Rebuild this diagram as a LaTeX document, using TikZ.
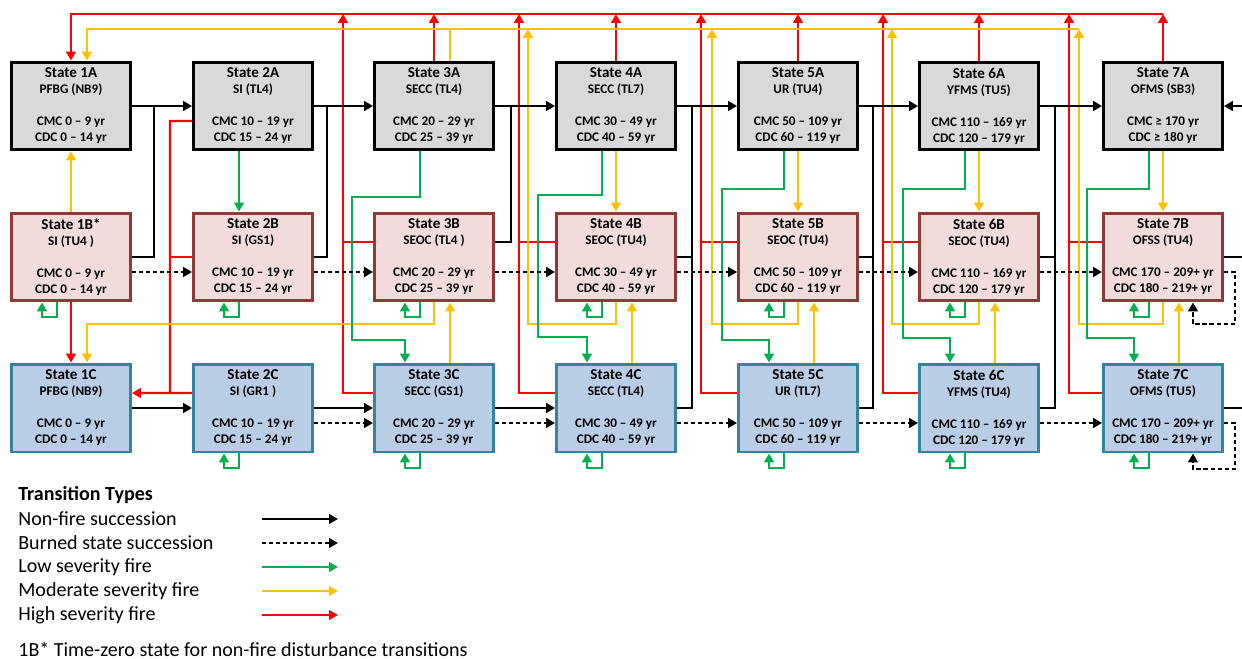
\documentclass[tikz,border=0pt]{standalone}
\usepackage{fontspec}
\setmainfont{Carlito}
\usepackage{xcolor}
\usepackage{tikz}
\usetikzlibrary{arrows.meta}
\definecolor{fgray}{HTML}{D9D9D9}
\definecolor{fpink}{HTML}{F2DCDB}
\definecolor{dpink}{HTML}{953735}
\definecolor{fblue}{HTML}{B9CDE5}
\definecolor{dblue}{HTML}{31859C}
\definecolor{lgreen}{HTML}{00B050}
\definecolor{lyellow}{HTML}{FFC000}
\definecolor{lred}{HTML}{FF0000}

\begin{document}
\begin{tikzpicture}[x=0.02cm, y=-0.02cm, >={Triangle[length=5pt,width=5.5pt]},
  state/.style={line width=1.7pt, minimum width=2.38cm, minimum height=1.76cm, inner sep=0pt,
    align=center, font=\fontsize{7.5}{9.1}\selectfont\bfseries},
  stA/.style={state, fill=fgray, draw=black},
  stB/.style={state, fill=fpink, draw=dpink},
  stC/.style={state, fill=fblue, draw=dblue},
  link/.style={line width=1.15pt},
  nofire/.style={link, black},
  burnt/.style={link, black, dash pattern=on 2.4pt off 1.6pt},
  low/.style={link, lgreen},
  mod/.style={link, lyellow},
  high/.style={link, lred},
  legtxt/.style={anchor=west, inner sep=0pt, font=\fontsize{11.4}{13}\selectfont}]
\useasboundingbox (0,0) rectangle (1242,659);

% states, row A
\node[stA] (s1A) at (71,106) {{\fontsize{8.6}{9.1}\selectfont State 1A}\\PFBG (NB9)\\[9.1pt]CMC 0 -- 9 yr\\CDC 0 -- 14 yr};
\node[stA] (s2A) at (253,106) {{\fontsize{8.6}{9.1}\selectfont State 2A}\\SI (TL4)\\[9.1pt]CMC 10 -- 19 yr\\CDC 15 -- 24 yr};
\node[stA] (s3A) at (434,106) {{\fontsize{8.6}{9.1}\selectfont State 3A}\\SECC (TL4)\\[9.1pt]CMC 20 -- 29 yr\\CDC 25 -- 39 yr};
\node[stA] (s4A) at (616,106) {{\fontsize{8.6}{9.1}\selectfont State 4A}\\SECC (TL7)\\[9.1pt]CMC 30 -- 49 yr\\CDC 40 -- 59 yr};
\node[stA] (s5A) at (798,106) {{\fontsize{8.6}{9.1}\selectfont State 5A}\\UR (TU4)\\[9.1pt]CMC 50 -- 109 yr\\CDC 60 -- 119 yr};
\node[stA] (s6A) at (979,106) {{\fontsize{8.6}{9.1}\selectfont State 6A}\\YFMS (TU5)\\[9.1pt]CMC 110 -- 169 yr\\CDC 120 -- 179 yr};
\node[stA] (s7A) at (1163,106) {{\fontsize{8.6}{9.1}\selectfont State 7A}\\OFMS (SB3)\\[9.1pt]CMC ≥ 170 yr\\CDC ≥ 180 yr};
% row B
\node[stB] (s1B) at (71,257) {{\fontsize{8.6}{9.1}\selectfont State 1B*}\\SI (TU4 )\\[9.1pt]CMC 0 -- 9 yr\\CDC 0 -- 14 yr};
\node[stB] (s2B) at (253,257) {{\fontsize{8.6}{9.1}\selectfont State 2B}\\SI (GS1)\\[9.1pt]CMC 10 -- 19 yr\\CDC 15 -- 24 yr};
\node[stB] (s3B) at (434,257) {{\fontsize{8.6}{9.1}\selectfont State 3B}\\SEOC (TL4 )\\[9.1pt]CMC 20 -- 29 yr\\CDC 25 -- 39 yr};
\node[stB] (s4B) at (616,257) {{\fontsize{8.6}{9.1}\selectfont State 4B}\\SEOC (TU4)\\[9.1pt]CMC 30 -- 49 yr\\CDC 40 -- 59 yr};
\node[stB] (s5B) at (798,257) {{\fontsize{8.6}{9.1}\selectfont State 5B}\\SEOC (TU4)\\[9.1pt]CMC 50 -- 109 yr\\CDC 60 -- 119 yr};
\node[stB] (s6B) at (979,257) {{\fontsize{8.6}{9.1}\selectfont State 6B}\\SEOC (TU4)\\[9.1pt]CMC 110 -- 169 yr\\CDC 120 -- 179 yr};
\node[stB] (s7B) at (1163,257) {{\fontsize{8.6}{9.1}\selectfont State 7B}\\OFSS (TU4)\\[9.1pt]CMC 170 -- 209+ yr\\CDC 180 -- 219+ yr};
% row C
\node[stC] (s1C) at (71,408) {{\fontsize{8.6}{9.1}\selectfont State 1C}\\PFBG (NB9)\\[9.1pt]CMC 0 -- 9 yr\\CDC 0 -- 14 yr};
\node[stC] (s2C) at (253,408) {{\fontsize{8.6}{9.1}\selectfont State 2C}\\SI (GR1 )\\[9.1pt]CMC 10 -- 19 yr\\CDC 15 -- 24 yr};
\node[stC] (s3C) at (434,408) {{\fontsize{8.6}{9.1}\selectfont State 3C}\\SECC (GS1)\\[9.1pt]CMC 20 -- 29 yr\\CDC 25 -- 39 yr};
\node[stC] (s4C) at (616,408) {{\fontsize{8.6}{9.1}\selectfont State 4C}\\SECC (TL4)\\[9.1pt]CMC 30 -- 49 yr\\CDC 40 -- 59 yr};
\node[stC] (s5C) at (798,408) {{\fontsize{8.6}{9.1}\selectfont State 5C}\\UR (TL7)\\[9.1pt]CMC 50 -- 109 yr\\CDC 60 -- 119 yr};
\node[stC] (s6C) at (979,408) {{\fontsize{8.6}{9.1}\selectfont State 6C}\\YFMS (TU4)\\[9.1pt]CMC 110 -- 169 yr\\CDC 120 -- 179 yr};
\node[stC] (s7C) at (1163,408) {{\fontsize{8.6}{9.1}\selectfont State 7C}\\OFMS (TU5)\\[9.1pt]CMC 170 -- 209+ yr\\CDC 180 -- 219+ yr};

% junctions and channels
\coordinate (k12) at (154,106);
\coordinate (k23) at (327,106);
\coordinate (k34) at (511,106);
\coordinate (k45) at (692,106);
\coordinate (k56) at (873,106);
\coordinate (k67) at (1055,106);
\coordinate (kR) at (1242,106);
\coordinate (kRB) at (1242,257);
\coordinate (kRC) at (1242,408);
\coordinate (r2) at (170,393);
\coordinate (r3) at (343,14);
\coordinate (r4) at (519,14);
\coordinate (r5) at (701,14);
\coordinate (r6) at (883,14);
\coordinate (r7) at (1069,14);
\coordinate (rT) at (1163,14);
\coordinate (y4) at (528,29);
\coordinate (y5) at (712,29);
\coordinate (y6) at (892,29);
\coordinate (yT) at (1079,29);
\coordinate (g3) at (352,340);
\coordinate (g4) at (538,337);
\coordinate (g5) at (722,340);
\coordinate (g6) at (903,338);
\coordinate (g7) at (1087,338);
\coordinate (dB) at (1235,324);
\coordinate (dC) at (1235,469);

% high severity fire
\draw[high,->] (rT) -| (s1A.north);
\draw[high,->] (s3A.north) -- (s3A.north |- rT);
\draw[high,->] (s4A.north) -- (s4A.north |- rT);
\draw[high,->] (s5A.north) -- (s5A.north |- rT);
\draw[high,->] (s6A.north) -- (s6A.north |- rT);
\draw[high,->] (s7A.north) -- (rT);
\draw[high,->] (s1B.south) -- (s1C.north);
\draw[high,->] ([yshift=-0.3cm]s2A.west) -| (r2) -- ([yshift=0.3cm]s1C.east);
\draw[high] (s2B.west) -- (s2B.west -| r2);
\draw[high] ([yshift=0.3cm]s2C.west) -- (r2);
\draw[high,->] ([yshift=0.3cm]s3C.west) -| (r3);
\draw[high] ([yshift=0.3cm]s3B.west) -- ([yshift=0.3cm]s3B.west -| r3);
\draw[high,->] ([yshift=0.3cm]s4C.west) -| (r4);
\draw[high] ([yshift=0.3cm]s4B.west) -- ([yshift=0.3cm]s4B.west -| r4);
\draw[high,->] ([yshift=0.3cm]s5C.west) -| (r5);
\draw[high] ([yshift=0.3cm]s5B.west) -- ([yshift=0.3cm]s5B.west -| r5);
\draw[high,->] ([yshift=0.3cm]s6C.west) -| (r6);
\draw[high] ([yshift=0.3cm]s6B.west) -- ([yshift=0.3cm]s6B.west -| r6);
\draw[high,->] ([yshift=0.3cm]s7C.west) -| (r7);
\draw[high] ([yshift=0.3cm]s7B.west) -- ([yshift=0.3cm]s7B.west -| r7);

% moderate severity fire
\draw[mod,->] (yT) -| ([xshift=0.32cm]s1A.north);
\draw[mod] ([xshift=0.32cm]s3A.north) -- ([xshift=0.32cm]s3A.north |- yT);
\draw[mod,->] (s1B.north) -- (s1A.south);
\draw[mod,->] (s3B.south) -- ++(0,22) -| ([xshift=0.32cm]s1C.north);
\draw[mod,->] (s4A.south) -- (s4B.north);
\draw[mod,->] (s5A.south) -- (s5B.north);
\draw[mod,->] (s6A.south) -- (s6B.north);
\draw[mod,->] (s7A.south) -- (s7B.north);
\draw[mod,->] ([xshift=0.32cm]s3C.north) -- ([xshift=0.32cm]s3B.south);
\draw[mod,->] ([xshift=0.32cm]s4C.north) -- ([xshift=0.32cm]s4B.south);
\draw[mod,->] ([xshift=0.32cm]s5C.north) -- ([xshift=0.32cm]s5B.south);
\draw[mod,->] ([xshift=0.32cm]s6C.north) -- ([xshift=0.32cm]s6B.south);
\draw[mod,->] ([xshift=0.32cm]s7C.north) -- ([xshift=0.32cm]s7B.south);
\draw[mod,->] (s4B.south) -- ++(0,22) -| (y4);
\draw[mod,->] (s5B.south) -- ++(0,22) -| (y5);
\draw[mod,->] (s6B.south) -- ++(0,22) -| (y6);
\draw[mod,->] (s7B.south) -- ++(0,22) -| (yT);

% low severity fire
\draw[low,->] ([xshift=-0.28cm]s2A.south) -- ([xshift=-0.28cm]s2B.north);
\draw[low,->] ([xshift=-0.28cm]s3A.south) -- ++(0,46) -| (g3) -| ([xshift=-0.58cm]s3C.north);
\draw[low,->] ([xshift=-0.28cm]s4A.south) -- ++(0,44) -| (g4) -| ([xshift=-0.58cm]s4C.north);
\draw[low,->] ([xshift=-0.28cm]s5A.south) -- ++(0,38) -| (g5) -| ([xshift=-0.58cm]s5C.north);
\draw[low,->] ([xshift=-0.28cm]s6A.south) -- ++(0,38) -| (g6) -| ([xshift=-0.58cm]s6C.north);
\draw[low,->] ([xshift=-0.28cm]s7A.south) -- ++(0,38) -| (g7) -| ([xshift=-0.58cm]s7C.north);
\draw[low,->] ([xshift=-0.28cm]s1B.south) -- ++(0,15) -| ([xshift=-0.58cm]s1B.south);
\draw[low,->] ([xshift=-0.28cm]s2B.south) -- ++(0,15) -| ([xshift=-0.58cm]s2B.south);
\draw[low,->] ([xshift=-0.28cm]s3B.south) -- ++(0,15) -| ([xshift=-0.58cm]s3B.south);
\draw[low,->] ([xshift=-0.28cm]s4B.south) -- ++(0,15) -| ([xshift=-0.58cm]s4B.south);
\draw[low,->] ([xshift=-0.28cm]s5B.south) -- ++(0,15) -| ([xshift=-0.58cm]s5B.south);
\draw[low,->] ([xshift=-0.28cm]s6B.south) -- ++(0,15) -| ([xshift=-0.58cm]s6B.south);
\draw[low,->] ([xshift=-0.28cm]s7B.south) -- ++(0,15) -| ([xshift=-0.58cm]s7B.south);
\draw[low,->] ([xshift=-0.28cm]s2C.south) -- ++(0,15) -| ([xshift=-0.58cm]s2C.south);
\draw[low,->] ([xshift=-0.28cm]s3C.south) -- ++(0,15) -| ([xshift=-0.58cm]s3C.south);
\draw[low,->] ([xshift=-0.28cm]s4C.south) -- ++(0,15) -| ([xshift=-0.58cm]s4C.south);
\draw[low,->] ([xshift=-0.28cm]s5C.south) -- ++(0,15) -| ([xshift=-0.58cm]s5C.south);
\draw[low,->] ([xshift=-0.28cm]s6C.south) -- ++(0,15) -| ([xshift=-0.58cm]s6C.south);
\draw[low,->] ([xshift=-0.28cm]s7C.south) -- ++(0,15) -| ([xshift=-0.58cm]s7C.south);

% non-fire succession
\draw[nofire,->] (s1A.east) -- (s2A.west);
\draw[nofire,->] (s2A.east) -- (s3A.west);
\draw[nofire,->] (s3A.east) -- (s4A.west);
\draw[nofire,->] (s4A.east) -- (s5A.west);
\draw[nofire,->] (s5A.east) -- (s6A.west);
\draw[nofire,->] (s6A.east) -- (s7A.west);
\draw[nofire,->] (kR) -- (s7A.east);
\draw[nofire] (s1B.east) -| (k12);
\draw[nofire] (s2B.east) -| (k23);
\draw[nofire] ([yshift=0.3cm]s3B.east) -| (k34);
\draw[nofire] (s4B.east) -| (k45);
\draw[nofire] (s4C.east) -| (k45);
\draw[nofire] (s5B.east) -| (k56);
\draw[nofire] (s5C.east) -| (k56);
\draw[nofire] (s6B.east) -| (k67);
\draw[nofire] (s6C.east) -| (k67);
\draw[nofire] (s7B.east) -- (kRB);
\draw[nofire] (s7C.east) -- (kRC);
\draw[nofire,->] (s1C.east) -- (s2C.west);
\draw[nofire,->] (s2C.east) -- (s3C.west);
\draw[nofire,->] (s3C.east) -- (s4C.west);

% burned state succession
\draw[burnt,->] ([yshift=-0.3cm]s1B.east) -- ([yshift=-0.3cm]s2B.west);
\draw[burnt,->] ([yshift=-0.3cm]s2B.east) -- ([yshift=-0.3cm]s3B.west);
\draw[burnt,->] ([yshift=-0.3cm]s3B.east) -- ([yshift=-0.3cm]s4B.west);
\draw[burnt,->] ([yshift=-0.3cm]s4B.east) -- ([yshift=-0.3cm]s5B.west);
\draw[burnt,->] ([yshift=-0.3cm]s5B.east) -- ([yshift=-0.3cm]s6B.west);
\draw[burnt,->] ([yshift=-0.3cm]s6B.east) -- ([yshift=-0.3cm]s7B.west);
\draw[burnt,->] ([yshift=-0.3cm]s7B.east) -| (dB) -| ([xshift=0.6cm]s7B.south);
\draw[burnt,->] ([yshift=-0.3cm]s2C.east) -- ([yshift=-0.3cm]s3C.west);
\draw[burnt,->] ([yshift=-0.3cm]s3C.east) -- ([yshift=-0.3cm]s4C.west);
\draw[burnt,->] ([yshift=-0.3cm]s4C.east) -- ([yshift=-0.3cm]s5C.west);
\draw[burnt,->] ([yshift=-0.3cm]s5C.east) -- ([yshift=-0.3cm]s6C.west);
\draw[burnt,->] ([yshift=-0.3cm]s6C.east) -- ([yshift=-0.3cm]s7C.west);
\draw[burnt,->] ([yshift=-0.3cm]s7C.east) -| (dC) -| ([xshift=0.6cm]s7C.south);

% legend
\node[legtxt, font=\fontsize{11.4}{13}\selectfont\bfseries] (legT) at (18,495) {Transition Types};
\node[legtxt] (leg1) at (18,519) {Non-fire succession};
\node[legtxt] (leg2) at (18,543) {Burned state succession};
\node[legtxt] (leg3) at (18,567) {Low severity fire};
\node[legtxt] (leg4) at (18,591) {Moderate severity fire};
\node[legtxt] (leg5) at (18,615) {High severity fire};
\node[legtxt] (note) at (18,649) {1B* Time-zero state for non-fire disturbance transitions};
\draw[nofire,->] ([xshift=4.88cm]leg1.west) -- ++(1.52cm,0);
\draw[burnt,->] ([xshift=4.88cm]leg2.west) -- ++(1.52cm,0);
\draw[low,->] ([xshift=4.88cm]leg3.west) -- ++(1.52cm,0);
\draw[mod,->] ([xshift=4.88cm]leg4.west) -- ++(1.52cm,0);
\draw[high,->] ([xshift=4.88cm]leg5.west) -- ++(1.52cm,0);
\end{tikzpicture}
\end{document}
